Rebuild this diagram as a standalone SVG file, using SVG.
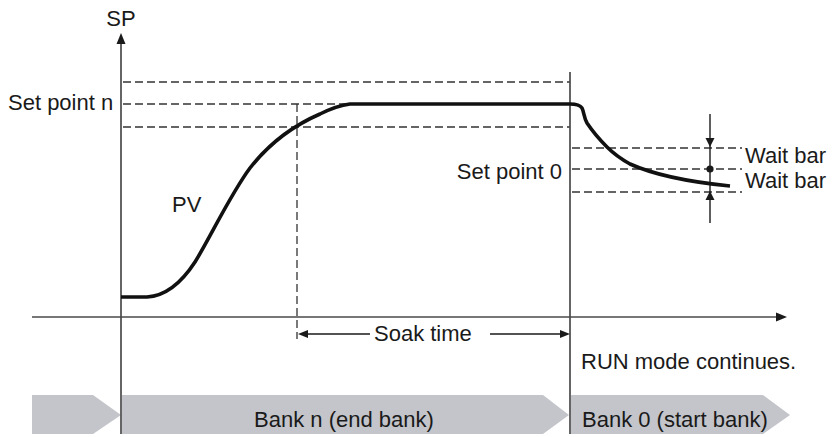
<svg xmlns="http://www.w3.org/2000/svg" width="834" height="437" viewBox="0 0 834 437">
<style>
text{font-family:"Liberation Sans",Arial,sans-serif;font-size:22px;fill:#1a1a1a}
.ax{stroke:#4a4a4a;stroke-width:1.7;fill:none}
.dash{stroke:#333;stroke-width:1.3;stroke-dasharray:8,4;fill:none}
.thin{stroke:#1a1a1a;stroke-width:1.4;fill:none}
.pv{stroke:#111;stroke-width:3.6;fill:none;stroke-linejoin:round}
.bar{fill:#c3c5ca}
.ah{fill:#1a1a1a}
</style>
<rect width="834" height="437" fill="#fff"/>
<g id="banks">
<polygon class="bar" points="32,395 93,395 121,415 93,434 32,434"/>
<polygon class="bar" points="122,395 543,395 569,415 543,434 122,434"/>
<polygon class="bar" points="571,395 763,395 790,415 763,434 571,434"/>
<text x="344" y="427" text-anchor="middle">Bank n (end bank)</text>
<text x="582" y="427">Bank 0 (start bank)</text>
</g>
<g id="guides">
<line class="dash" x1="123" y1="82" x2="570" y2="82"/>
<line class="dash" x1="123" y1="104" x2="350" y2="104"/>
<line class="dash" x1="123" y1="127" x2="570" y2="127"/>
<line class="dash" x1="297" y1="104" x2="297" y2="339"/>
<line class="dash" x1="572" y1="148" x2="742" y2="148"/>
<line class="dash" x1="572" y1="169" x2="742" y2="169"/>
<line class="dash" x1="572" y1="192" x2="742" y2="192"/>
</g>
<g id="connectors">
<line class="ax" x1="121" y1="42" x2="121" y2="434"/>
<polygon class="ah" points="121,33 116.5,44 125.5,44"/>
<line class="ax" x1="32" y1="317" x2="778" y2="317"/>
<polygon class="ah" points="787,317 776,312.5 776,321.5"/>
<line class="ax" x1="570" y1="72" x2="570" y2="434"/>
<line class="thin" x1="305" y1="334" x2="370" y2="334"/>
<polygon class="ah" points="298,334 308,330 308,338"/>
<line class="thin" x1="490" y1="334" x2="562" y2="334"/>
<polygon class="ah" points="570,334 560,330 560,338"/>
<line class="thin" x1="710" y1="114" x2="710" y2="223"/>
<polygon class="ah" points="710,147 705.5,138 714.5,138"/>
<circle class="ah" cx="710" cy="169" r="3.6"/>
<polygon class="ah" points="710,191 705.5,200 714.5,200"/>
</g>
<g id="pv-curve">
<path class="pv" d="M121,297 H147 C165,296 180,285 195,262 C210,238 230,195 250,168 C268,145 290,127 320,114 C332,108 342,105 350,104 H570 C576,104 580,105 582,108 C584,112 584,118 587,123 C593,132 600,140 607,147 C615,155 621,159 630,164 C650,173 680,181 730,186"/>
</g>
<g id="labels">
<text x="121" y="26" text-anchor="middle">SP</text>
<text x="8" y="110">Set point n</text>
<text x="172" y="212">PV</text>
<text x="562" y="179" text-anchor="end">Set point 0</text>
<text x="745" y="163">Wait bar</text>
<text x="745" y="188">Wait bar</text>
<text x="374" y="341">Soak time</text>
<text x="581" y="369">RUN mode continues.</text>
</g>
</svg>
